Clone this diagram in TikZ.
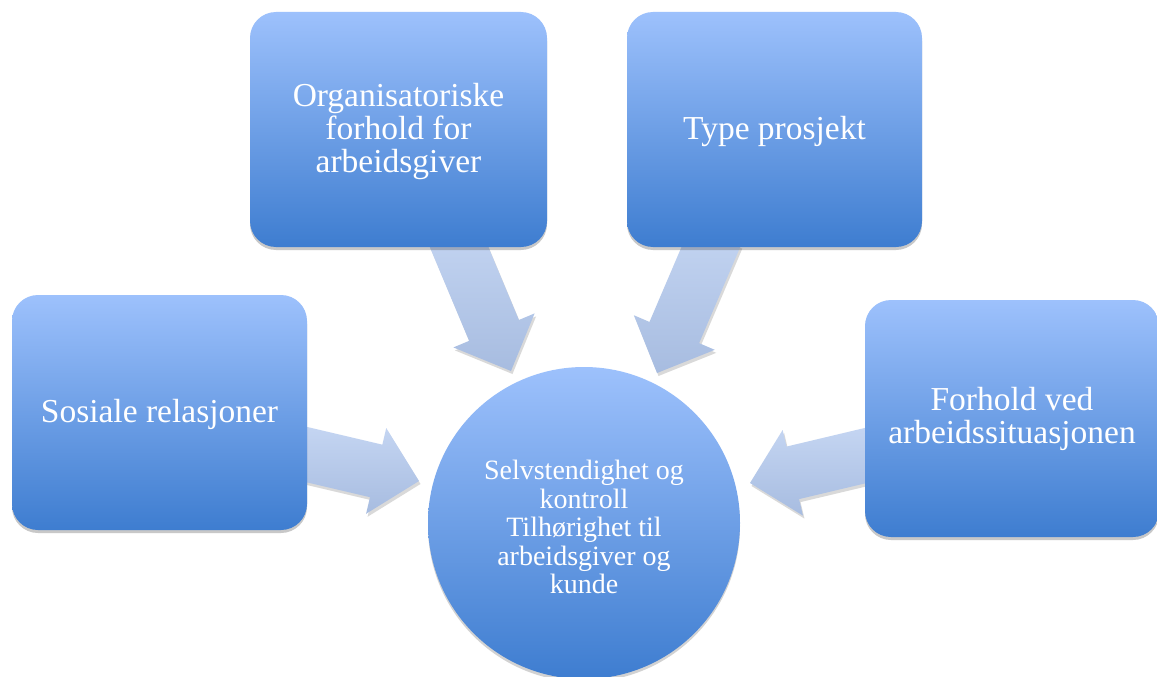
\documentclass[tikz,border=0pt]{standalone}
\usepackage{fontspec}
\setmainfont{Liberation Serif}
\usetikzlibrary{calc,shadows}
\definecolor{boxtop}{RGB}{157,193,252}
\definecolor{boxbot}{RGB}{62,125,208}
\definecolor{arrtop}{RGB}{196,213,242}
\definecolor{arrbot}{RGB}{167,188,224}
\tikzset{
  box/.style={rounded corners=26pt, top color=boxtop, bottom color=boxbot, draw=none,
    text=white, align=center, inner sep=0pt,
    drop shadow={shadow xshift=0pt, shadow yshift=-3pt, opacity=.3, fill=black!70}},
  hub/.style={circle, top color=boxtop, bottom color=boxbot, draw=none, text=white,
    align=center, inner sep=0pt, minimum size=312pt,
    drop shadow={shadow xshift=0pt, shadow yshift=-3pt, opacity=.25, fill=black!70}},
  arrfill/.style={top color=arrtop, bottom color=arrbot, draw=none,
    drop shadow={shadow xshift=1.5pt, shadow yshift=-3pt, opacity=.15, fill=black}},
  bigtxt/.style={font=\fontsize{33.5}{33}\selectfont},
  smalltxt/.style={font=\fontsize{28}{28.5}\selectfont}
}
\newcommand\blockarr[2]{%
  \coordinate (hb) at ($(#2)!44pt!(#1)$);
  \path[arrfill] ($(#1)!27pt!90:(#2)$) -- ($(hb)!27pt!-90:(#1)$) -- ($(hb)!44pt!-90:(#1)$)
    -- (#2) -- ($(hb)!44pt!90:(#1)$) -- ($(hb)!27pt!90:(#1)$) -- ($(#1)!27pt!-90:(#2)$) -- cycle;
}
\newcommand\lowtext[2]{\raisebox{#1}[\height][\depth]{\begin{tabular}{@{}c@{}}#2\end{tabular}}}
\begin{document}
\begin{tikzpicture}[x=1pt,y=-1pt]
\clip (0,0) rectangle (1157,677);
\fill[white] (0,0) rectangle (1157,677);
% arrow end points
\coordinate (aS) at (454,235);
\coordinate (aT) at (511,371);
\coordinate (bS) at (716,235);
\coordinate (bT) at (657,373);
\coordinate (cS) at (300,453);
\coordinate (cT) at (419,481);
\coordinate (dS) at (872,454);
\coordinate (dT) at (750,483);
\blockarr{aS}{aT}
\blockarr{bS}{bT}
\blockarr{cS}{cT}
\blockarr{dS}{dT}
% boxes
\node[box, bigtxt, minimum width=297pt, minimum height=235pt] (org) at (398.5,129.5)
  {\lowtext{-3.5pt}{Organisatoriske\\forhold for\\arbeidsgiver}};
\node[box, bigtxt, minimum width=295pt, minimum height=235pt] (type) at (774.5,129.5)
  {\lowtext{-3.5pt}{Type prosjekt}};
\node[box, bigtxt, minimum width=295pt, minimum height=235pt] (sos) at (159.5,412.5)
  {\lowtext{-3.5pt}{Sosiale relasjoner}};
\node[box, bigtxt, minimum width=294pt, minimum height=237pt] (fh) at (1012,418.5)
  {\lowtext{-2pt}{Forhold ved\\arbeidssituasjonen}};
\node[hub, smalltxt] (hub) at (584,523) {\lowtext{-8pt}{Selvstendighet og\\kontroll\\Tilhørighet til\\arbeidsgiver og\\kunde}};
\end{tikzpicture}
\end{document}
